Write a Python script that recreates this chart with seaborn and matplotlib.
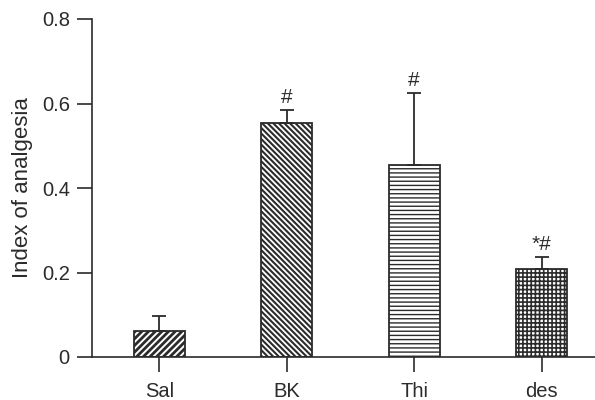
import matplotlib
matplotlib.use("Agg")
import matplotlib.pyplot as plt
import seaborn as sns
import pandas as pd
import numpy as np

# Treatment groups and their mean index of analgesia
groups = ["Sal", "BK", "Thi", "des"]
means = [0.061, 0.555, 0.455, 0.209]
sem = [0.035, 0.030, 0.171, 0.028]
marks = ["", "#", "#", "*#"]
y_ticks = [0, 0.2, 0.4, 0.6, 0.8]
y_tick_labels = ["0", "0.2", "0.4", "0.6", "0.8"]

hatches = ["/////", "\\" * 6, "----", "++++"]
hatch_lw = [2.0, 1.5, 1.0, 1.2]

ink = "#2b2b2b"

sns.set_theme(style="ticks")
plt.rcParams["font.family"] = ["Liberation Sans", "DejaVu Sans"]
plt.rcParams["hatch.color"] = ink

df = pd.DataFrame({"group": groups, "value": means})

fig = plt.figure(figsize=(5.95, 4.0), dpi=100)
ax = fig.add_axes([0.1546, 0.1075, 0.8454, 0.845])

sns.barplot(data=df, x="group", y="value", order=groups, color="white",
            edgecolor=ink, linewidth=1.3, width=0.4, errorbar=None, ax=ax)

for patch, h, lw in zip(ax.patches, hatches, hatch_lw):
    patch.set_hatch(h)
    if hasattr(patch, "set_hatch_linewidth"):
        patch.set_hatch_linewidth(lw)

x = np.arange(len(groups))
ax.errorbar(x, means, yerr=[np.zeros(len(sem)), sem], fmt="none",
            ecolor=ink, elinewidth=1.3, capsize=5, capthick=1.3, zorder=1)

for xi, m, s, lab in zip(x, means, sem, marks):
    if lab:
        ax.text(xi, m + s + 0.006, lab, ha="center", va="bottom",
                fontsize=15, color=ink)

ax.set_xlim(-0.53, 3.42)
ax.set_ylim(0, 0.8)
ax.set_yticks(y_ticks)
ax.set_yticklabels(y_tick_labels)
ax.set_xlabel("")
ax.set_ylabel("Index of analgesia", fontsize=16, color=ink, labelpad=6)
ax.tick_params(axis="both", direction="out", length=11, width=1.2,
               colors=ink, labelsize=14.5, pad=5)
ax.tick_params(axis="x", pad=7)
sns.despine(ax=ax)
for side in ["left", "bottom"]:
    ax.spines[side].set_color(ink)
    ax.spines[side].set_linewidth(1.2)

fig.savefig("out.png", dpi=100)
